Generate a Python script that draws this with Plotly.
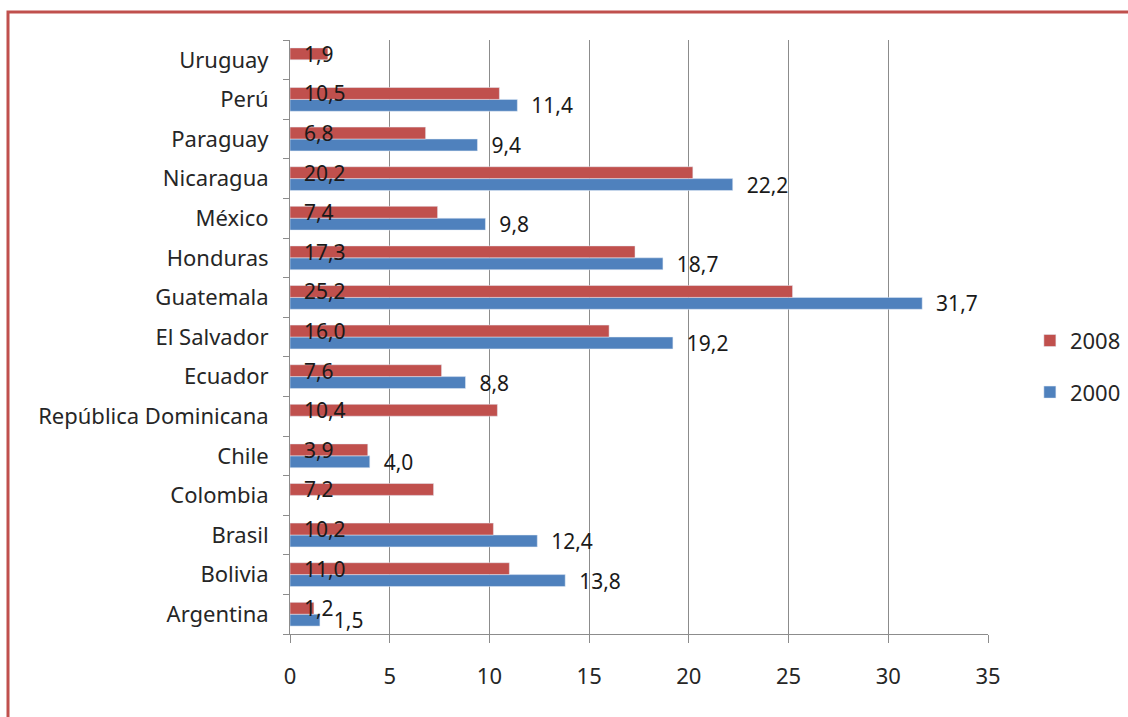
import plotly.graph_objects as go

countries = ["Argentina", "Bolivia", "Brasil", "Colombia", "Chile", "República Dominicana",
             "Ecuador", "El Salvador", "Guatemala", "Honduras", "México", "Nicaragua",
             "Paraguay", "Perú", "Uruguay"]
v2008 = [1.2, 11.0, 10.2, 7.2, 3.9, 10.4, 7.6, 16.0, 25.2, 17.3, 7.4, 20.2, 6.8, 10.5, 1.9]
v2000 = [1.5, 13.8, 12.4, None, 4.0, None, 8.8, 19.2, 31.7, 18.7, 9.8, 22.2, 9.4, 11.4, None]
xticks = [0, 5, 10, 15, 20, 25, 30, 35]

RED = "#C0504D"
BLUE = "#4F81BD"
FONT = "Noto Sans"
PAD = "\u00a0\u00a0"

def fmt(vals):
    return ["" if v is None else PAD + f"{v:.1f}".replace(".", ",") for v in vals]

fig = go.Figure()
fig.add_trace(go.Bar(
    y=countries, x=v2000, name="2000", orientation="h", marker_color=BLUE,
    text=fmt(v2000), textposition="outside", cliponaxis=False,
    textfont=dict(color="#1a1a1a", size=21, family=FONT), legendrank=2,
    legendgroup="a",
))
fig.add_trace(go.Bar(
    y=countries, x=v2008, name="2008", orientation="h", marker_color=RED,
    text=fmt(v2008), textposition="inside", insidetextanchor="start",
    insidetextfont=dict(color="#1a1a1a", size=21, family=FONT), legendrank=1,
    legendgroup="b",
))

fig.update_layout(
    width=1128, height=717,
    margin=dict(l=290, r=140, t=40, b=83, autoexpand=False),
    paper_bgcolor="white", plot_bgcolor="white",
    barmode="group", bargap=0.4, bargroupgap=0,
    font=dict(family=FONT, size=22, color="#262626"),
    uniformtext=dict(mode="show", minsize=21),
    showlegend=True,
    legend=dict(x=1.06, y=0.45, xanchor="left", yanchor="middle",
                font=dict(size=22), tracegroupgap=20, bgcolor="rgba(0,0,0,0)"),
    xaxis=dict(range=[0, 35], tickvals=xticks, showgrid=True, gridcolor="#8c8c8c",
               gridwidth=1, showline=True, linecolor="#8c8c8c", ticks="outside",
               ticklen=8, tickcolor="#8c8c8c", zeroline=False, ticklabelstandoff=15,
               fixedrange=True),
    yaxis=dict(categoryorder="array", categoryarray=countries, showline=True,
               linecolor="#8c8c8c", ticks="outside", ticklen=6, tickcolor="#8c8c8c",
               tickson="boundaries", ticklabelstandoff=16, showgrid=False),
    shapes=[dict(type="rect", xref="paper", yref="paper",
                 x0=(8 - 290) / 698, x1=2.0, y0=-1.0, y1=(634 - 12) / 594,
                 line=dict(color=RED, width=3), fillcolor="rgba(0,0,0,0)", layer="below")],
)

fig.write_html("out.html")
